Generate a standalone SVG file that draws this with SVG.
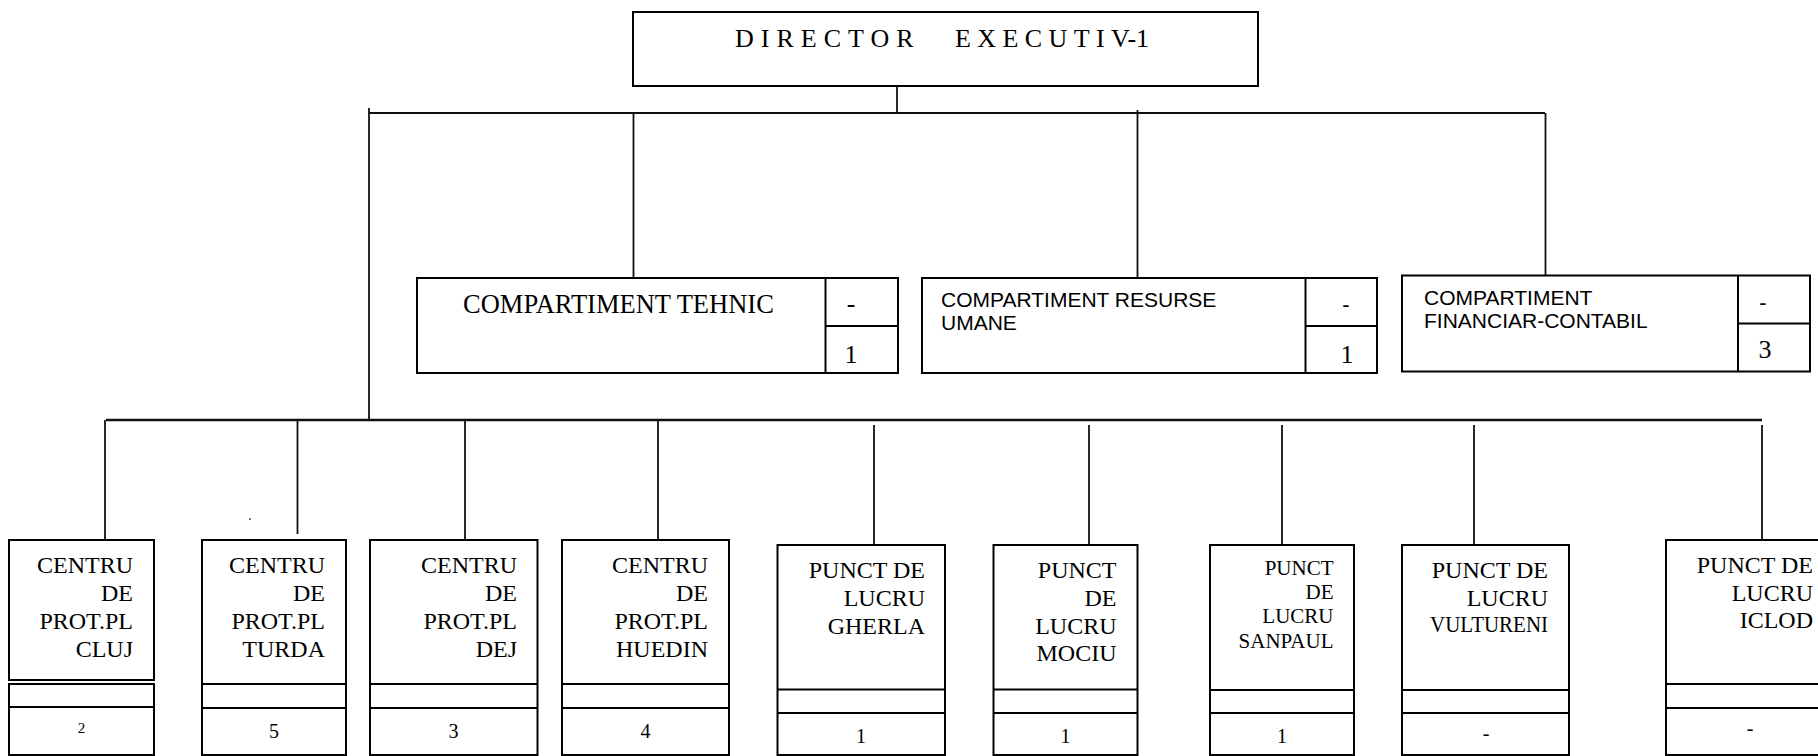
<svg xmlns="http://www.w3.org/2000/svg" width="1818" height="756" viewBox="0 0 1818 756">
<style>
.box{fill:#fff;stroke:#000;stroke-width:2}
.ln{stroke:#000;stroke-width:2;fill:none}
.cn{stroke:#111;stroke-width:1.8;fill:none}
.sf{font-family:"Liberation Serif","Times New Roman",serif;fill:#000}
.ss{font-family:"Liberation Sans",Arial,sans-serif;fill:#000}
.r{text-anchor:end}
.m{text-anchor:middle}
.b24{font-size:24px}
.n20{font-size:20px}
</style>
<rect width="1818" height="756" fill="#fff"/>
<g id="connectors">
<path class="cn" d="M897,86V113M369,113H1545M369,108V420M633.5,113V278M1137.5,110V278M1545.5,113V275"/>
<path class="cn" style="stroke-width:2.4" d="M106,420H1762"/>
<path class="cn" d="M105,420V540M297.5,420V534M465,420V542M658,420V540M874,425V545M1089,425V547M1282,425V545M1474,425V545M1762,425V540"/>
<rect x="249" y="518" width="2" height="2" fill="#777"/>
</g>
<g id="director">
<rect class="box" x="633" y="12" width="625" height="74"/>
<text class="sf" y="47" font-size="26"><tspan x="735" letter-spacing="7">DIRECTOR</tspan><tspan x="955" letter-spacing="6.4">EXECUTI</tspan><tspan x="1111" letter-spacing="0">V-1</tspan></text>
</g>
<g id="comp-tehnic">
<rect class="box" x="417" y="278" width="481" height="95"/>
<path class="ln" d="M825.5,278V373M825.5,326H898"/>
<text class="sf" x="463" y="313" font-size="26.5">COMPARTIMENT TEHNIC</text>
<text class="sf m" x="851" y="312" font-size="26">-</text>
<text class="sf m" x="851" y="363" font-size="26">1</text>
</g>
<g id="comp-ru">
<rect class="box" x="922" y="278" width="455" height="95"/>
<path class="ln" d="M1305.5,278V373M1305.5,326H1377"/>
<text class="ss" x="941" y="307" font-size="21">COMPARTIMENT RESURSE</text>
<text class="ss" x="941" y="330" font-size="21">UMANE</text>
<text class="ss m" x="1346" y="312" font-size="22">-</text>
<text class="sf m" x="1347" y="363" font-size="26">1</text>
</g>
<g id="comp-fc">
<rect class="box" x="1402" y="275.5" width="408" height="96"/>
<path class="ln" d="M1738,275.5V371.5M1738,323.5H1810"/>
<text class="ss" x="1424" y="305" font-size="21">COMPARTIMENT</text>
<text class="ss" x="1424" y="328" font-size="21">FINANCIAR-CONTABIL</text>
<text class="ss m" x="1763" y="310" font-size="22">-</text>
<text class="sf m" x="1765" y="358" font-size="26">3</text>
</g>
<g id="cluj">
<rect class="box" x="9" y="540" width="145" height="140"/>
<rect class="box" x="9" y="684" width="145" height="71"/>
<path class="ln" d="M9,707H154"/>
<text class="sf b24 r" y="573"><tspan x="133">CENTRU</tspan><tspan x="133" dy="28">DE</tspan><tspan x="133" dy="28">PROT.PL</tspan><tspan x="133" dy="28">CLUJ</tspan></text>
<text class="sf m" x="81.5" y="733" font-size="15">2</text>
</g>
<g id="turda">
<rect class="box" x="202" y="540" width="144" height="215"/>
<path class="ln" d="M202,684H346M202,708H346"/>
<text class="sf b24 r" y="573"><tspan x="325">CENTRU</tspan><tspan x="325" dy="28">DE</tspan><tspan x="325" dy="28">PROT.PL</tspan><tspan x="325" dy="28">TURDA</tspan></text>
<text class="sf n20 m" x="274" y="738">5</text>
</g>
<g id="dej">
<rect class="box" x="370" y="540" width="167.5" height="215"/>
<path class="ln" d="M370,684H537.5M370,708H537.5"/>
<text class="sf b24 r" y="573"><tspan x="517">CENTRU</tspan><tspan x="517" dy="28">DE</tspan><tspan x="517" dy="28">PROT.PL</tspan><tspan x="517" dy="28">DEJ</tspan></text>
<text class="sf n20 m" x="453.5" y="738">3</text>
</g>
<g id="huedin">
<rect class="box" x="562" y="540" width="167" height="215"/>
<path class="ln" d="M562,684H729M562,708H729"/>
<text class="sf b24 r" y="573"><tspan x="708">CENTRU</tspan><tspan x="708" dy="28">DE</tspan><tspan x="708" dy="28">PROT.PL</tspan><tspan x="708" dy="28">HUEDIN</tspan></text>
<text class="sf n20 m" x="645.5" y="738">4</text>
</g>
<g id="gherla">
<rect class="box" x="777.5" y="545" width="167.5" height="210"/>
<path class="ln" d="M777.5,689.5H945M777.5,713H945"/>
<text class="sf b24 r" y="578"><tspan x="925">PUNCT DE</tspan><tspan x="925" dy="28">LUCRU</tspan><tspan x="925" dy="27.5">GHERLA</tspan></text>
<text class="sf n20 m" x="861" y="743">1</text>
</g>
<g id="mociu">
<rect class="box" x="993.5" y="545" width="144" height="210"/>
<path class="ln" d="M993.5,689.5H1137.5M993.5,713H1137.5"/>
<text class="sf b24 r" y="578"><tspan x="1116.5">PUNCT</tspan><tspan x="1116.5" dy="28">DE</tspan><tspan x="1116.5" dy="27.5">LUCRU</tspan><tspan x="1116.5" dy="27.5">MOCIU</tspan></text>
<text class="sf n20 m" x="1065.5" y="743">1</text>
</g>
<g id="sanpaul">
<rect class="box" x="1210" y="545" width="144" height="210"/>
<path class="ln" d="M1210,690H1354M1210,713H1354"/>
<text class="sf r" y="575" font-size="21"><tspan x="1333.5">PUNCT</tspan><tspan x="1333.5" dy="24">DE</tspan><tspan x="1333.5" dy="24">LUCRU</tspan><tspan x="1333.5" dy="25">SANPAUL</tspan></text>
<text class="sf n20 m" x="1282" y="743">1</text>
</g>
<g id="vultureni">
<rect class="box" x="1402" y="545" width="167" height="210"/>
<path class="ln" d="M1402,690H1569M1402,713H1569"/>
<text class="sf b24 r" y="578"><tspan x="1548">PUNCT DE</tspan><tspan x="1548" dy="28">LUCRU</tspan></text>
<text class="sf r" x="1548" y="632" font-size="24" textLength="118" lengthAdjust="spacingAndGlyphs">VULTURENI</text>
<text class="sf n20 m" x="1486" y="740">-</text>
</g>
<g id="iclod">
<rect class="box" x="1666" y="540" width="170" height="215"/>
<path class="ln" d="M1666,684H1836M1666,708H1836"/>
<text class="sf b24 r" y="573"><tspan x="1813">PUNCT DE</tspan><tspan x="1813" dy="27.5">LUCRU</tspan><tspan x="1813" dy="27">ICLOD</tspan></text>
<text class="sf n20 m" x="1750" y="735">-</text>
</g>
</svg>
